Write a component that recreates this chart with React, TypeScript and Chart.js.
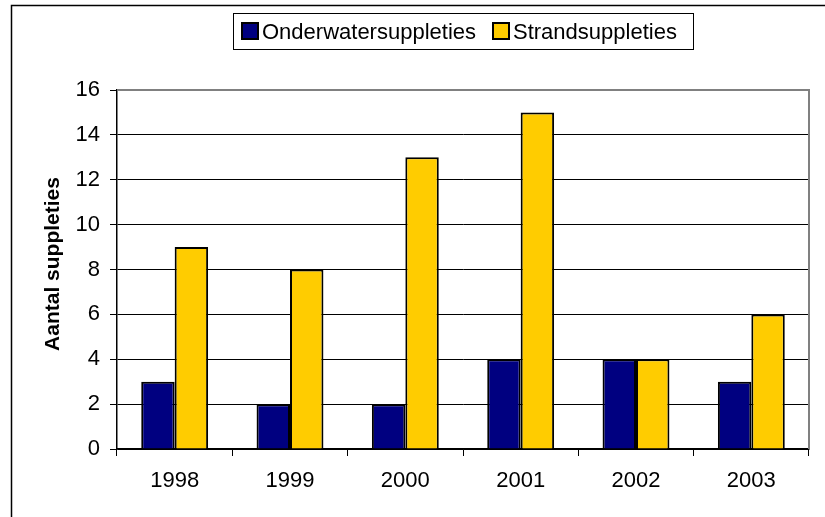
import React, { useEffect, useRef } from "react";
import { Chart, registerables } from "chart.js";

Chart.register(...registerables);

const categories = ["1998", "1999", "2000", "2001", "2002", "2003"];
const onderwater = [3, 2, 2, 4, 4, 3];
const strand = [9, 8, 13, 15, 4, 6];
const seriesNames = ["Onderwatersuppleties", "Strandsuppleties"];
const yTitle = "Aantal suppleties";

const FONT = "Arial, 'Liberation Sans', sans-serif";
const BLUE = "#000080";
const YELLOW = "#FFCC00";

const decorPlugin = {
  id: "decor",
  afterDraw(chart: any) {
    const ctx = chart.ctx as CanvasRenderingContext2D;
    const ca = chart.chartArea;
    ctx.save();
    // plot border (gray top & right)
    ctx.strokeStyle = "#808080";
    ctx.lineWidth = 2;
    ctx.beginPath();
    ctx.moveTo(ca.left, ca.top);
    ctx.lineTo(ca.right, ca.top);
    ctx.lineTo(ca.right, ca.bottom);
    ctx.stroke();
    // outer frame
    ctx.strokeStyle = "#000";
    ctx.lineWidth = 1.5;
    ctx.beginPath();
    ctx.moveTo(11.5, 530);
    ctx.lineTo(11.5, 5.5);
    ctx.lineTo(830, 5.5);
    ctx.stroke();
    // legend box
    ctx.lineWidth = 1;
    ctx.strokeStyle = "#000";
    ctx.strokeRect(233.5, 13.5, 460, 36);
    ctx.font = `22px ${FONT}`;
    ctx.textBaseline = "alphabetic";
    ctx.textAlign = "left";
    const items = [
      { x: 242, color: BLUE, text: seriesNames[0], tx: 262 },
      { x: 493, color: YELLOW, text: seriesNames[1], tx: 513 },
    ];
    for (const it of items) {
      ctx.fillStyle = it.color;
      ctx.fillRect(it.x, 23, 16, 16);
      ctx.lineWidth = 2;
      ctx.strokeStyle = "#000";
      ctx.strokeRect(it.x, 23, 16, 16);
      ctx.fillStyle = "#000";
      ctx.fillText(it.text, it.tx, 38.5);
    }
    // y title
    ctx.translate(53, 264);
    ctx.rotate(-Math.PI / 2);
    ctx.font = `bold 21px ${FONT}`;
    ctx.textAlign = "center";
    ctx.textBaseline = "middle";
    ctx.fillStyle = "#000";
    ctx.fillText(yTitle, 0, 0);
    ctx.restore();
  },
};

export default function App() {
  const ref = useRef<HTMLCanvasElement>(null);
  useEffect(() => {
    if (!ref.current) return;
    const chart = new Chart(ref.current, {
      type: "bar",
      data: {
        labels: categories,
        datasets: [
          {
            label: seriesNames[0],
            data: onderwater,
            backgroundColor: BLUE,
            borderColor: "#000",
            borderWidth: 2,
            categoryPercentage: 0.58,
            barPercentage: 1,
          },
          {
            label: seriesNames[1],
            data: strand,
            backgroundColor: YELLOW,
            borderColor: "#000",
            borderWidth: 2,
            categoryPercentage: 0.58,
            barPercentage: 1,
          },
        ],
      },
      options: {
        animation: false,
        responsive: false,
        maintainAspectRatio: false,
        layout: { padding: { left: 0, top: 90, right: 16, bottom: 0 } },
        plugins: {
          legend: { display: false },
          title: { display: false },
          tooltip: { enabled: false },
        },
        scales: {
          x: {
            afterFit: (s: any) => {
              s.height = 68;
            },
            grid: {
              offset: true,
              drawOnChartArea: false,
              drawTicks: true,
              tickLength: 7,
              color: "#000",
            },
            border: { display: true, color: "#000", width: 1.5 },
            ticks: {
              color: "#000",
              font: { family: FONT, size: 22 },
              padding: 12,
              maxRotation: 0,
            },
          },
          y: {
            min: 0,
            max: 16,
            afterFit: (s: any) => {
              s.width = 117;
            },
            grid: {
              color: "#000",
              lineWidth: 1,
              tickLength: 7,
              drawTicks: true,
            },
            border: { display: true, color: "#000", width: 1.5 },
            ticks: {
              stepSize: 2,
              color: "#000",
              font: { family: FONT, size: 22 },
              padding: 10,
            },
          },
        },
      },
      plugins: [decorPlugin],
    });
    return () => chart.destroy();
  }, []);
  return (
    <div style={{ position: "fixed", left: 0, top: 0, width: 825, height: 517, background: "#fff" }}>
      <canvas ref={ref} width={825} height={517} style={{ width: 825, height: 517 }} />
    </div>
  );
}
